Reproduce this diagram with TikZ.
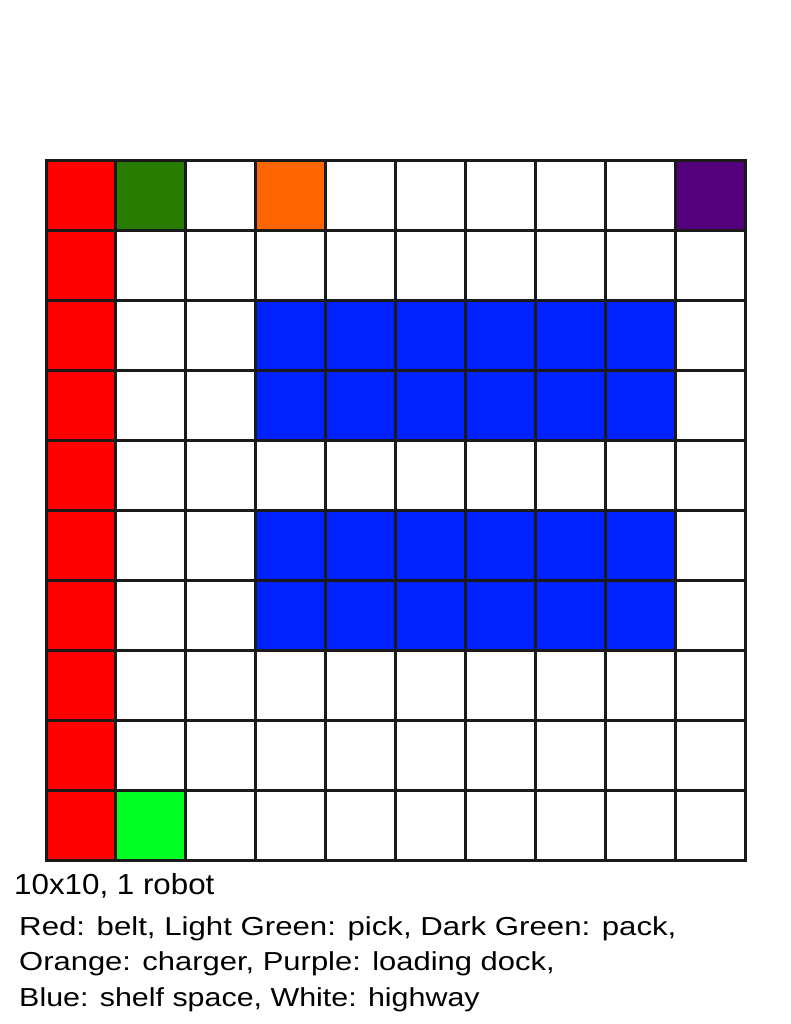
\documentclass[tikz,border=0pt]{standalone}
\usepackage{fontspec}
\setmainfont{Liberation Sans}
\usetikzlibrary{positioning}

\definecolor{belt}{HTML}{FF0000}
\definecolor{pick}{HTML}{00FF22}
\definecolor{pack}{HTML}{267B00}
\definecolor{charger}{HTML}{FF6600}
\definecolor{dock}{HTML}{53007D}
\definecolor{shelf}{HTML}{0022FF}
\definecolor{highway}{HTML}{FFFFFF}
\definecolor{gridline}{HTML}{1A1A1A}

\begin{document}
\begin{tikzpicture}[
  x=1pt, y=-1pt,
  cell/.style={draw=gridline, line width=3pt, minimum size=69.9pt, inner sep=0pt},
  caption/.style={anchor=base west, inner sep=0pt, transform shape,
    font=\fontsize{29}{34}\selectfont},
  legend/.style={anchor=base west, inner sep=0pt, transform shape,
    font=\fontsize{26}{30}\selectfont},
]
\useasboundingbox (0,0) rectangle (791,1024);

  % warehouse floor, 10 rows by 10 columns
  \foreach \r in {1,...,10} {
    \foreach \c in {1,...,10} {
      \def\col{highway}
      \ifnum\c=1 \def\col{belt}\fi
      \ifnum\c>3 \ifnum\c<10
        \ifnum\r=3 \def\col{shelf}\fi
        \ifnum\r=4 \def\col{shelf}\fi
        \ifnum\r=6 \def\col{shelf}\fi
        \ifnum\r=7 \def\col{shelf}\fi
      \fi\fi
      \ifnum\r=1
        \ifnum\c=2 \def\col{pack}\fi
        \ifnum\c=4 \def\col{charger}\fi
        \ifnum\c=10 \def\col{dock}\fi
      \fi
      \ifnum\r=10 \ifnum\c=2 \def\col{pick}\fi\fi
      \node[cell, fill=\col] (c\r-\c) at ({46+69.9*(\c-0.5)}, {161+69.9*(\r-0.5)}) {};
    }
  }

  % captions below the grid
  \node[caption, xscale=1.08] (size) at (14,894) {10x10, 1 robot};
  \node[legend, xscale=1.2] (key1) at (19,935) {Red: belt, Light Green: pick, Dark Green: pack,};
  \node[legend, xscale=1.19] (key2) at (19,970.5) {Orange: charger, Purple: loading dock,};
  \node[legend, xscale=1.17] (key3) at (19,1006) {Blue: shelf space, White: highway};
\end{tikzpicture}
\end{document}
